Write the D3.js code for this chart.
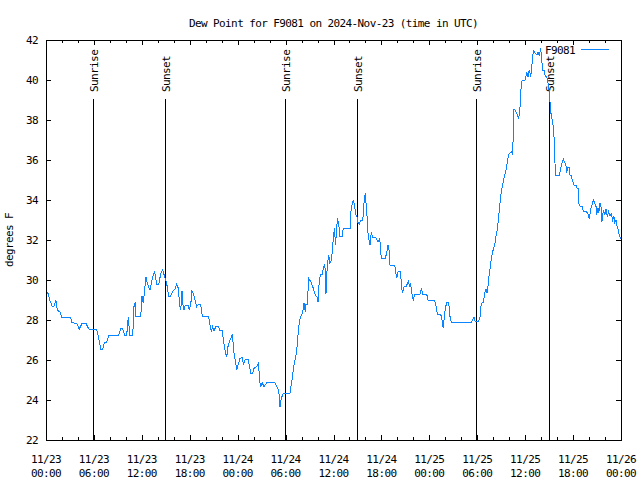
<!DOCTYPE html>
<html>
<head>
<meta charset="utf-8">
<script src="https://cdn.jsdelivr.net/npm/d3@7"></script>
<style>
  body { margin: 0; background: #fff; }
  svg { display: block; }
  text { font-family: "DejaVu Sans Mono", "Liberation Mono", monospace; font-size: 11px; letter-spacing: -0.6px; fill: #000; }
  .axis path { display: none; }
  .axis line { stroke: #000; shape-rendering: crispEdges; }
</style>
</head>
<body>
<svg width="640" height="480"></svg>
<script>
"use strict";

// hours after 2024-11-23 00:00 UTC
var hoursUtc = [0.10, 0.25, 0.50, 0.75, 1.00, 1.25, 1.42, 1.75, 2.00, 3.09, 3.26, 3.84, 4.17, 4.51, 5.01, 5.35,
  6.35, 6.55, 6.85, 7.10, 7.30, 7.60, 7.85, 9.10, 9.35, 9.60, 9.85, 10.10, 10.31, 10.43, 10.52, 10.86,
  11.02, 11.18, 11.27, 11.86, 12.02, 12.18, 12.27, 12.52, 12.68, 13.02, 13.36, 13.61, 13.86, 14.11, 14.36, 14.61,
  14.86, 15.11, 15.36, 15.61, 15.87, 16.12, 16.37, 16.62, 16.69, 16.87, 17.03, 17.12, 17.28, 17.44, 17.78, 17.94,
  18.12, 18.28, 18.45, 18.62, 18.87, 19.12, 19.37, 19.45, 19.62, 20.37, 20.54, 20.70, 20.87, 21.04, 21.29, 21.54,
  21.79, 22.04, 22.20, 22.45, 22.63, 22.79, 22.95, 23.13, 23.38, 23.45, 23.70, 23.88, 24.04, 24.29, 24.54, 24.71,
  24.96, 25.29, 25.46, 25.63, 25.88, 26.05, 26.38, 26.63, 26.71, 26.88, 27.05, 27.30, 27.64, 28.64, 28.89, 29.14,
  29.30, 29.46, 29.71, 30.55, 30.80, 30.97, 31.14, 31.30, 31.47, 31.56, 31.72, 31.89, 32.14, 32.31, 32.47, 32.56,
  32.72, 32.90, 33.15, 33.40, 33.72, 33.97, 34.06, 34.22, 34.40, 34.65, 34.72, 34.90, 34.97, 35.06, 35.22, 35.40,
  35.56, 35.73, 35.90, 35.98, 36.15, 36.23, 36.40, 36.48, 36.65, 36.81, 37.07, 37.23, 38.07, 38.15, 38.32, 38.48,
  38.66, 38.73, 38.91, 39.07, 39.23, 39.41, 39.66, 39.73, 39.82, 39.98, 40.07, 40.23, 40.32, 40.48, 40.57, 40.73,
  40.91, 41.16, 41.41, 41.48, 41.66, 41.74, 41.82, 41.91, 41.99, 42.49, 42.66, 42.82, 42.99, 43.08, 43.66, 43.74,
  43.91, 43.99, 44.08, 44.42, 44.49, 44.67, 44.83, 45.08, 45.24, 45.39, 45.49, 45.67, 45.74, 45.92, 45.99, 46.17,
  46.67, 46.83, 47.00, 47.17, 47.67, 47.83, 48.67, 48.84, 49.00, 49.42, 49.59, 49.67, 49.75, 49.84, 50.00, 50.18,
  50.43, 50.59, 50.75, 53.26, 53.43, 53.59, 53.76, 54.18, 54.35, 54.43, 54.60, 54.76, 54.93, 55.10, 55.26, 55.43,
  55.60, 55.76, 55.93, 56.18, 56.35, 56.51, 56.69, 56.85, 57.01, 57.26, 57.44, 57.60, 57.85, 58.01, 58.26, 58.44,
  58.51, 58.60, 58.77, 58.94, 59.19, 59.35, 59.44, 59.61, 60.02, 60.20, 60.36, 60.52, 60.70, 60.86, 61.03, 61.27,
  61.45, 61.61, 61.77, 61.95, 62.02, 62.20, 62.36, 62.52, 62.70, 62.77, 62.95, 63.11, 63.27, 63.45, 63.61, 63.70,
  63.78, 64.28, 64.45, 64.61, 64.78, 64.95, 65.12, 65.20, 65.36, 65.53, 65.62, 65.78, 65.87, 66.12, 66.37, 66.45,
  66.62, 66.70, 66.87, 67.12, 67.28, 67.71, 67.87, 68.04, 68.21, 68.37, 68.54, 68.71, 68.88, 68.96, 69.12, 69.21,
  69.37, 69.54, 69.62, 69.79, 69.96, 70.12, 70.29, 70.46, 70.62, 70.79, 70.96, 71.12, 71.20, 71.37, 71.45, 71.62,
  71.78, 71.96];

var dewPointF = [29.40, 29.33, 28.97, 28.70, 28.70, 28.97, 28.50, 28.40, 28.13, 28.13, 27.87, 27.83, 27.55, 27.83, 27.83, 27.55,
  27.53, 27.20, 26.55, 26.55, 26.88, 26.90, 27.23, 27.23, 27.57, 27.57, 27.23, 27.23, 28.17, 27.50, 27.23, 27.23,
  28.67, 28.92, 28.17, 28.17, 29.20, 28.83, 29.17, 30.17, 29.83, 29.50, 30.17, 30.42, 29.78, 29.78, 30.30, 30.50,
  30.17, 29.83, 29.20, 29.20, 29.43, 29.53, 29.80, 29.53, 28.83, 28.50, 29.47, 28.80, 28.50, 28.75, 28.75, 28.53,
  28.75, 29.47, 29.33, 29.08, 28.67, 28.80, 28.80, 28.47, 28.17, 28.17, 27.75, 27.42, 27.67, 27.45, 27.70, 27.70,
  27.47, 27.50, 27.03, 26.42, 26.13, 26.67, 26.92, 27.08, 27.30, 26.53, 26.00, 25.50, 25.75, 26.08, 26.13, 25.80,
  26.03, 26.03, 25.75, 25.33, 25.33, 25.58, 25.67, 25.87, 25.08, 24.67, 24.87, 24.67, 24.87, 24.87, 24.67, 24.50,
  23.67, 24.08, 24.33, 24.33, 25.00, 25.53, 25.92, 26.25, 26.75, 27.25, 27.92, 28.17, 28.37, 28.87, 28.42, 28.80,
  28.80, 30.08, 29.92, 29.67, 29.25, 29.13, 28.90, 30.00, 30.30, 30.30, 30.63, 30.80, 30.42, 29.30, 30.75, 31.25,
  30.83, 31.00, 31.58, 32.25, 32.58, 31.75, 32.50, 33.08, 32.83, 32.17, 32.17, 32.58, 32.58, 33.33, 33.75, 33.97,
  33.75, 33.33, 33.20, 32.87, 32.80, 33.00, 33.00, 33.25, 33.87, 34.37, 33.87, 33.00, 32.37, 31.92, 31.75, 32.37,
  32.13, 32.13, 32.08, 31.92, 31.92, 32.08, 31.92, 31.42, 31.08, 31.08, 31.37, 31.75, 31.42, 30.75, 30.75, 30.53,
  30.08, 30.25, 30.42, 30.42, 29.67, 29.37, 29.67, 29.67, 29.80, 30.00, 29.67, 29.80, 29.53, 29.08, 29.00, 29.28,
  29.28, 29.30, 29.58, 29.30, 29.30, 29.00, 29.00, 28.67, 28.30, 28.30, 28.00, 27.75, 27.58, 28.00, 28.58, 28.87,
  28.87, 28.17, 27.87, 27.87, 28.00, 28.13, 27.92, 27.92, 28.17, 28.67, 28.87, 28.87, 29.33, 29.53, 29.33, 30.08,
  30.58, 31.08, 31.42, 31.75, 32.20, 32.53, 33.20, 33.83, 34.42, 34.92, 35.25, 35.50, 36.08, 36.33, 36.42, 36.30,
  37.42, 38.53, 38.50, 38.33, 38.08, 38.58, 39.42, 39.97, 40.00, 40.42, 40.17, 40.50, 40.17, 40.80, 41.47, 41.33,
  41.25, 41.37, 41.25, 41.58, 41.17, 40.50, 40.50, 40.17, 40.17, 40.00, 39.67, 38.92, 38.17, 37.92, 37.17, 36.33,
  35.25, 35.25, 35.58, 35.83, 36.03, 35.87, 35.70, 35.37, 35.63, 35.63, 35.25, 35.20, 35.03, 34.75, 34.75, 34.60,
  34.58, 33.83, 33.70, 33.70, 33.42, 33.40, 33.30, 33.03, 33.58, 33.75, 34.00, 33.83, 33.67, 33.25, 33.58, 33.33,
  33.87, 33.58, 32.92, 33.50, 33.25, 33.53, 33.17, 33.42, 33.20, 33.30, 33.00, 33.17, 32.87, 33.00, 32.75, 32.58,
  32.25, 32.03];

var sunriseTimes = ["2024-11-23T05:56Z", "2024-11-24T05:58Z", "2024-11-25T05:54Z"];
var sunsetTimes = ["2024-11-23T14:56Z", "2024-11-24T14:59Z", "2024-11-25T15:02Z"];

var startTime = Date.UTC(2024, 10, 23, 0, 0);
var endTime = Date.UTC(2024, 10, 26, 0, 0);
var yTicks = d3.range(22, 43, 2);
var lineColor = "#0a84ff";

var svg = d3.select("svg"),
    margin = { top: 40, right: 19, bottom: 40, left: 46 },
    width = +svg.attr("width") - margin.left - margin.right,
    height = +svg.attr("height") - margin.top - margin.bottom;

var x = d3.scaleUtc().domain([startTime, endTime]).range([margin.left, margin.left + width]);
var y = d3.scaleLinear().domain([22, 42]).range([margin.top + height, margin.top]);

var data = hoursUtc.map(function (h, i) {
    return { date: new Date(startTime + h * 3600000), value: dewPointF[i] };
});

// title
svg.append("text")
    .attr("x", margin.left + width / 2)
    .attr("y", 27)
    .attr("text-anchor", "middle")
    .text("Dew Point for F9081 on 2024-Nov-23 (time in UTC)");

// y label
svg.append("text")
    .attr("transform", "translate(13," + (margin.top + height / 2) + ") rotate(-90)")
    .attr("text-anchor", "middle")
    .text("degrees F");

// ticks (gnuplot style, pointing inward, mirrored)
var bottom = margin.top + height, right = margin.left + width;
svg.append("g").attr("class", "axis")
    .attr("transform", "translate(0," + bottom + ")")
    .call(d3.axisBottom(x).ticks(d3.utcHour.every(2)).tickSize(-3).tickSizeOuter(0).tickFormat(""));
svg.append("g").attr("class", "axis")
    .attr("transform", "translate(0," + margin.top + ")")
    .call(d3.axisTop(x).ticks(d3.utcHour.every(2)).tickSize(-3).tickSizeOuter(0).tickFormat(""));
svg.append("g").attr("class", "axis")
    .attr("transform", "translate(0," + bottom + ")")
    .call(d3.axisBottom(x).ticks(d3.utcHour.every(6)).tickSize(-5).tickSizeOuter(0).tickFormat(""));
svg.append("g").attr("class", "axis")
    .attr("transform", "translate(0," + margin.top + ")")
    .call(d3.axisTop(x).ticks(d3.utcHour.every(6)).tickSize(-5).tickSizeOuter(0).tickFormat(""));

var yAxisL = svg.append("g").attr("class", "axis")
    .attr("transform", "translate(" + margin.left + ",0)")
    .call(d3.axisLeft(y).tickValues(yTicks).tickSize(-5).tickSizeOuter(0).tickPadding(8));
yAxisL.selectAll("text").attr("font-family", null).attr("font-size", null).attr("dy", "0.36em").attr("x", -8);
svg.append("g").attr("class", "axis")
    .attr("transform", "translate(" + right + ",0)")
    .call(d3.axisRight(y).tickValues(yTicks).tickSize(-5).tickSizeOuter(0).tickFormat(""));

// x tick labels on two lines
var xTickLbl = svg.append("g").selectAll("text")
    .data(x.ticks(d3.utcHour.every(6)))
    .enter().append("text")
    .attr("text-anchor", "middle");
xTickLbl.append("tspan")
    .attr("x", function (d) { return x(d); })
    .attr("y", 463)
    .text(d3.utcFormat("%m/%d"));
xTickLbl.append("tspan")
    .attr("x", function (d) { return x(d); })
    .attr("y", 477)
    .text(d3.utcFormat("%H:%M"));

// frame
svg.append("rect")
    .attr("x", margin.left + 0.5)
    .attr("y", margin.top + 0.5)
    .attr("width", width)
    .attr("height", height)
    .attr("fill", "none")
    .attr("stroke", "#000");

// sunrise / sunset markers
var markers = sunriseTimes.map(function (t) { return { date: new Date(t), label: "Sunrise" }; })
    .concat(sunsetTimes.map(function (t) { return { date: new Date(t), label: "Sunset" }; }));

svg.append("g").selectAll("line")
    .data(markers)
    .enter().append("line")
    .attr("x1", function (d) { return Math.round(x(d.date)) + 0.5; })
    .attr("x2", function (d) { return Math.round(x(d.date)) + 0.5; })
    .attr("y1", 99)
    .attr("y2", bottom)
    .attr("stroke", "#000");

svg.append("g").selectAll("text")
    .data(markers)
    .enter().append("text")
    .attr("transform", function (d) { return "translate(" + Math.round(x(d.date)) + ",92) rotate(-90)"; })
    .attr("y", 5)
    .text(function (d) { return d.label; });

// dew point line (aliased like the gnuplot png)
var line = d3.line()
    .x(function (d) { return x(d.date); })
    .y(function (d) { return y(d.value); });

svg.append("path")
    .datum(data)
    .attr("fill", "none")
    .attr("stroke", lineColor)
    .attr("stroke-width", 1)
    .attr("shape-rendering", "crispEdges")
    .attr("d", line);

// legend
svg.append("text")
    .attr("x", 575)
    .attr("y", 54)
    .attr("text-anchor", "end")
    .text("F9081");
svg.append("line")
    .attr("x1", 581).attr("x2", 609)
    .attr("y1", 49.5).attr("y2", 49.5)
    .attr("stroke", lineColor)
    .attr("shape-rendering", "crispEdges");
</script>
</body>
</html>
